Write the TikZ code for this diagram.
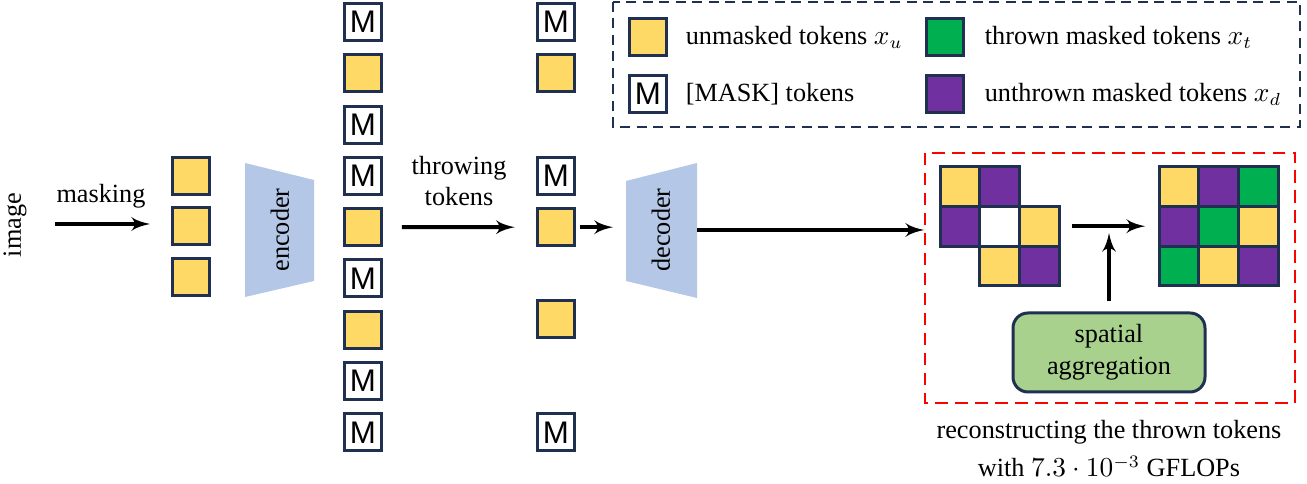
\documentclass[tikz,border=0pt]{standalone}
\usepackage{fontspec}
\setmainfont{Liberation Serif}
\setsansfont{Liberation Sans}
\usepackage{xcolor}
\usepackage{tikz}
\usetikzlibrary{positioning}
\usetikzlibrary{arrows}
\definecolor{navy}{HTML}{1F3050}
\definecolor{tokyellow}{HTML}{FFD966}
\definecolor{tokgreen}{HTML}{00B050}
\definecolor{tokpurple}{HTML}{7030A0}
\definecolor{codblue}{HTML}{B4C7E7}
\definecolor{agggreen}{HTML}{A9D18E}
\tikzset{edge/.style = {->,> = latex', line width=1.6pt}}
\begin{document}
\begin{tikzpicture}[x=0.4pt,y=-0.4pt,font=\rmfamily\fontsize{10.5}{12.6}\selectfont,
  tok/.style={draw=navy,line width=1.2pt,minimum size=14.8pt,inner sep=0pt},
  ytok/.style={tok,fill=tokyellow},
  mtok/.style={tok,fill=white,font=\sffamily\fontsize{12.5}{12.5}\selectfont},
  cell/.style={draw=navy,line width=1.2pt,minimum size=15.88pt,inner sep=0pt,outer sep=0pt},
  codec/.style={fill=codblue}]
\useasboundingbox (0,0) rectangle (1307,484);

\node[rotate=90] (img) at (15,225) {image};
\coordinate (maskin) at (55,224);
\foreach \py [count=\i] in {176,226.5,277}
  \node[ytok] (c1-\i) at (191,\py) {};
\draw[edge,shorten >=8.4pt] (maskin) -- (maskin -| c1-2.west);
\node (masklab) at (101,196) {masking};

\fill[codec] (245,163) -- (314,180) -- (314,281) -- (245,297) -- cycle;
\node[rotate=90] (enc) at (280,230) {encoder};

\foreach \s/\txt [count=\i] in {mtok/M,ytok/{},mtok/M,mtok/M,ytok/{},mtok/M,ytok/{},mtok/M,mtok/M}
  \node[\s] (c2-\i) at (363,{22+51.3*(\i-1)}) {\txt};

\foreach \s/\txt/\py [count=\i] in {mtok/M/22,ytok/{}/73.3,mtok/M/175.9,ytok/{}/227.2,ytok/{}/319,mtok/M/432.4}
  \node[\s] (c3-\i) at (556,\py) {\txt};

\draw[edge,shorten <=7.5pt,shorten >=8.5pt] (c2-5) -- (c3-4);
\node[align=center] (throwlab) at (459,181) {throwing\\tokens};

\coordinate (decin) at (613,227.2);
\draw[edge,shorten <=1.5pt] (c3-4) -- (decin);
\fill[codec] (626,181) -- (697,163) -- (697,298) -- (626,281) -- cycle;
\node[rotate=90] (dec) at (661,230) {decoder};
\coordinate (decout) at (697,230);

% legend
\draw[navy,line width=0.8pt,dash pattern=on 4pt off 2.6pt] (613,2) rectangle (1300,127);
\node[ytok] (legy) at (648,37) {};
\node[mtok] (legm) at (648,94) {M};
\node[tok,fill=tokgreen] (legg) at (945,37) {};
\node[tok,fill=tokpurple] (legp) at (945,94) {};
\node[anchor=west] (legyt) at (677,37) {unmasked tokens $x_u$};
\node[anchor=west] (legmt) at (677,94) {[MASK] tokens};
\node[anchor=west] (leggt) at (976,37) {thrown masked tokens $x_t$};
\node[anchor=west] (legpt) at (976,94) {unthrown masked tokens $x_d$};

% reconstruction
\draw[red,line width=1pt,dash pattern=on 5pt off 3pt] (925,153) rectangle (1295,403);
\foreach \cx/\cy/\cc in {0/0/tokyellow,1/0/tokpurple,0/1/tokpurple,1/1/white,2/1/tokyellow,1/2/tokyellow,2/2/tokpurple}
  \node[cell,fill=\cc] (ga-\cx-\cy) at ({960+39.7*\cx},{186.5+39.7*\cy}) {};
\foreach \cx/\cy/\cc in {0/0/tokyellow,1/0/tokpurple,2/0/tokgreen,0/1/tokpurple,1/1/tokgreen,2/1/tokyellow,0/2/tokgreen,1/2/tokyellow,2/2/tokpurple}
  \node[cell,fill=\cc] (gb-\cx-\cy) at ({1179+39.7*\cx},{186.5+39.7*\cy}) {};
\draw[edge,shorten >=6.4pt] (decout) -- (decout -| ga-0-1.west);
\draw[edge,shorten <=5.2pt,shorten >=5.6pt] (ga-2-1) -- (gb-0-1);

\node[draw=navy,line width=1.2pt,fill=agggreen,rounded corners=6pt,align=center,
  minimum width=76.8pt,minimum height=31.6pt,font=\rmfamily\fontsize{10.5}{12.8}\selectfont] (agg) at (1109,352.5) {spatial\\aggregation};
\coordinate (aggup) at (1109,233);
\draw[edge,shorten <=4pt] (agg.north) -- (aggup);

\node[align=center] (caption) at (1109,449) {reconstructing the thrown tokens\\[2.6pt]with $7.3\cdot10^{-3}$ GFLOPs};
\end{tikzpicture}
\end{document}
